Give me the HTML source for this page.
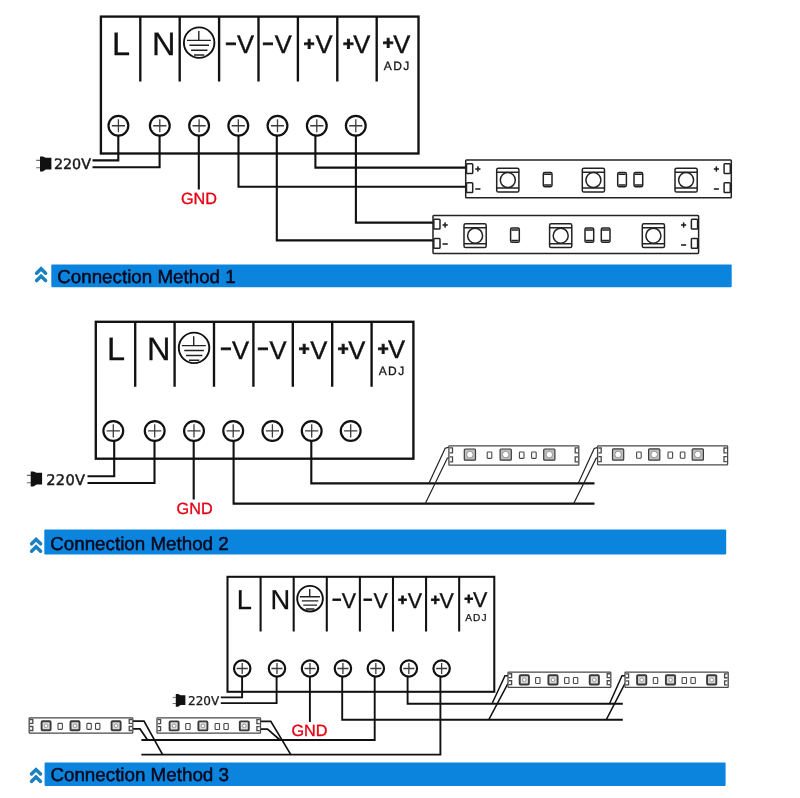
<!DOCTYPE html>
<html lang="en"><head><meta charset="utf-8"><title>Connection Methods</title>
<style>html,body{margin:0;padding:0;background:#fff}body{width:800px;height:798px;overflow:hidden}svg{display:block;will-change:transform;text-rendering:geometricPrecision;filter:blur(0.35px)}.lb{font-family:"Liberation Sans",sans-serif;fill:#111}.sk{stroke:#111;stroke-width:0.3}.dv{font-family:"DejaVu Sans","Liberation Sans",sans-serif;fill:#1a1a1a;stroke:#1a1a1a;stroke-width:0.45}.w{fill:none;stroke:#111;stroke-width:2.1}.tw{fill:none;stroke:#222;stroke-width:1.2}.st *{fill:none;stroke:#222;stroke-width:1.5}.st rect:first-child{fill:#fff}.ss *{fill:none;stroke:#4a4a4a;stroke-width:1.3}.ss rect:first-child{fill:#fff}.gnd{font-family:"Liberation Sans",sans-serif;fill:#e60012;font-size:16.2px;stroke:#e60012;stroke-width:0.35}</style></head><body>
<svg width="800" height="798" viewBox="0 0 800 798">
<rect width="800" height="798" fill="#fff"/>
<g id="s1">
<g transform="translate(100.9 16.6) scale(1)">
<rect x="0" y="0" width="317.6" height="136.9" fill="#fff" stroke="#111" stroke-width="2.35"/>
<path d="M39.4 0V65M78.8 0V65M118.2 0V65M157.6 0V65M197 0V65M236.4 0V65M275.8 0V65" stroke="#111" stroke-width="2.35" fill="none"/>
<text x="11.1" y="38.7" font-size="32.5" class="lb sk">L</text>
<text x="51.2" y="38.7" font-size="32.5" class="lb sk">N</text>
<circle cx="98.25" cy="26.05" r="15.25" fill="none" stroke="#111" stroke-width="1.9"/>
<path d="M97.9 14.5V23.8M86.1 23.8H110M88.5 28.7H108.1M90.2 33.7H106.6M93.1 38.4H103.5" stroke="#222" stroke-width="1.4" fill="none"/>
<text y="36.9" class="lb"><tspan x="124.6" dy="-3.3" font-size="18.5" font-weight="bold" stroke="#111" stroke-width="0.9">−</tspan><tspan x="136.1" dy="3.3" font-size="25.6" stroke="#111" stroke-width="0.4">V</tspan></text>
<text y="36.9" class="lb"><tspan x="161.6" dy="-3.3" font-size="18.5" font-weight="bold" stroke="#111" stroke-width="0.9">−</tspan><tspan x="173.8" dy="3.3" font-size="25.6" stroke="#111" stroke-width="0.4">V</tspan></text>
<text y="36.9" class="lb"><tspan x="202.9" dy="-3.3" font-size="18.5" font-weight="bold" stroke="#111" stroke-width="0.9">+</tspan><tspan x="214.5" dy="3.3" font-size="25.6" stroke="#111" stroke-width="0.4">V</tspan></text>
<text y="36.9" class="lb"><tspan x="242" dy="-3.3" font-size="18.5" font-weight="bold" stroke="#111" stroke-width="0.9">+</tspan><tspan x="252.4" dy="3.3" font-size="25.6" stroke="#111" stroke-width="0.4">V</tspan></text>
<text y="36.2" class="lb"><tspan x="281.9" dy="-3.3" font-size="18.5" font-weight="bold" stroke="#111" stroke-width="0.9">+</tspan><tspan x="292.3" dy="3.3" font-size="25.6" stroke="#111" stroke-width="0.4">V</tspan></text>
<text x="282.9" y="53.2" font-size="12" letter-spacing="1.4" class="lb" stroke="#222" stroke-width="0.3">ADJ</text>
<circle cx="17.5" cy="109.15" r="9.9" fill="#fff" stroke="#111" stroke-width="2.2"/>
<path d="M10.9 109.15H24.1M17.5 102.55V115.75" stroke="#3c3c3c" stroke-width="1.3" fill="none"/>
<circle cx="58.9" cy="109.15" r="9.9" fill="#fff" stroke="#111" stroke-width="2.2"/>
<path d="M52.3 109.15H65.5M58.9 102.55V115.75" stroke="#3c3c3c" stroke-width="1.3" fill="none"/>
<circle cx="98.2" cy="109.15" r="9.9" fill="#fff" stroke="#111" stroke-width="2.2"/>
<path d="M91.6 109.15H104.8M98.2 102.55V115.75" stroke="#3c3c3c" stroke-width="1.3" fill="none"/>
<circle cx="137.4" cy="109.15" r="9.9" fill="#fff" stroke="#111" stroke-width="2.2"/>
<path d="M130.8 109.15H144M137.4 102.55V115.75" stroke="#3c3c3c" stroke-width="1.3" fill="none"/>
<circle cx="176.6" cy="109.15" r="9.9" fill="#fff" stroke="#111" stroke-width="2.2"/>
<path d="M170 109.15H183.2M176.6 102.55V115.75" stroke="#3c3c3c" stroke-width="1.3" fill="none"/>
<circle cx="215.9" cy="109.15" r="9.9" fill="#fff" stroke="#111" stroke-width="2.2"/>
<path d="M209.3 109.15H222.5M215.9 102.55V115.75" stroke="#3c3c3c" stroke-width="1.3" fill="none"/>
<circle cx="254.9" cy="109.15" r="9.9" fill="#fff" stroke="#111" stroke-width="2.2"/>
<path d="M248.3 109.15H261.5M254.9 102.55V115.75" stroke="#3c3c3c" stroke-width="1.3" fill="none"/>
</g>
<path class="w" d="M118.3 136V160.4H92.5M159.6 136V167.3H92.5M198.8 136V189.5M238.5 136V186.8H466M276.8 136V240.4H433.5M315.4 136V167.6H466M355.9 136V222.6H433.5"/>
<g transform="translate(36.2 164) scale(1)">
<path d="M0 -3.6H4M0 3.7H4" stroke="#666" stroke-width="1.1" fill="none"/>
<path d="M3.8 -7.6L6.6 -7.6L9.6 -6.2L15.2 -6.2L15.2 5.4L9.6 5.4L6.6 7.6L3.8 7.6Z" fill="#111"/>
</g>
<text x="53.9" y="169.3" font-size="14.3" class="dv">220V</text>
<text x="199" y="203.8" text-anchor="middle" class="gnd">GND</text>
<g transform="translate(465.7 159.9)" class="st">
<rect x="0" y="0" width="265.6" height="37.9" rx="0.8" fill="#fff"/>
<rect x="0.8" y="3.8" width="6.2" height="9.8" rx="0.8"/><rect x="0.8" y="22.9" width="6.2" height="9.8" rx="0.8"/>
<rect x="258.4" y="3.8" width="6.2" height="9.8" rx="0.8"/><rect x="258.4" y="22.9" width="6.2" height="9.8" rx="0.8"/>
<rect x="31" y="8.3" width="22.2" height="23.8" rx="1.6" stroke-width="1.7"/>
<path d="M31 12.3h22.2M31 28.2h22.2" stroke-width="1.1"/>
<circle cx="42.1" cy="20.2" r="7.5" stroke-width="1.9"/>
<rect x="116.6" y="8.3" width="22.2" height="23.8" rx="1.6" stroke-width="1.7"/>
<path d="M116.6 12.3h22.2M116.6 28.2h22.2" stroke-width="1.1"/>
<circle cx="127.7" cy="20.2" r="7.5" stroke-width="1.9"/>
<rect x="209.3" y="8.3" width="22.2" height="23.8" rx="1.6" stroke-width="1.7"/>
<path d="M209.3 12.3h22.2M209.3 28.2h22.2" stroke-width="1.1"/>
<circle cx="220.4" cy="20.2" r="7.5" stroke-width="1.9"/>
<rect x="77.6" y="12.6" width="8.7" height="14.2" rx="1.4"/>
<path d="M78.4 14.4h7.1M78.4 25.0h7.1" stroke="#999" stroke-width="0.9"/>
<rect x="152" y="12.6" width="8.7" height="14.2" rx="1.4"/>
<path d="M152.8 14.4h7.1M152.8 25.0h7.1" stroke="#999" stroke-width="0.9"/>
<rect x="168.3" y="12.6" width="8.7" height="14.2" rx="1.4"/>
<path d="M169.1 14.4h7.1M169.1 25.0h7.1" stroke="#999" stroke-width="0.9"/>
</g>
<text x="477.8" y="171.9" font-size="9" font-weight="bold" text-anchor="middle" class="lb" stroke="#111" stroke-width="0.5">+</text>
<text x="477.8" y="191.7" font-size="9" font-weight="bold" text-anchor="middle" class="lb" stroke="#111" stroke-width="0.5">−</text>
<text x="716.3" y="171.9" font-size="9" font-weight="bold" text-anchor="middle" class="lb" stroke="#111" stroke-width="0.5">+</text>
<text x="716.3" y="191.9" font-size="9" font-weight="bold" text-anchor="middle" class="lb" stroke="#111" stroke-width="0.5">−</text>
<g transform="translate(433 215.5)" class="st">
<rect x="0" y="0" width="265.6" height="37.9" rx="0.8" fill="#fff"/>
<rect x="0.8" y="3.8" width="6.2" height="9.8" rx="0.8"/><rect x="0.8" y="22.9" width="6.2" height="9.8" rx="0.8"/>
<rect x="258.4" y="3.8" width="6.2" height="9.8" rx="0.8"/><rect x="258.4" y="22.9" width="6.2" height="9.8" rx="0.8"/>
<rect x="31" y="8.3" width="22.2" height="23.8" rx="1.6" stroke-width="1.7"/>
<path d="M31 12.3h22.2M31 28.2h22.2" stroke-width="1.1"/>
<circle cx="42.1" cy="20.2" r="7.5" stroke-width="1.9"/>
<rect x="116.6" y="8.3" width="22.2" height="23.8" rx="1.6" stroke-width="1.7"/>
<path d="M116.6 12.3h22.2M116.6 28.2h22.2" stroke-width="1.1"/>
<circle cx="127.7" cy="20.2" r="7.5" stroke-width="1.9"/>
<rect x="209.3" y="8.3" width="22.2" height="23.8" rx="1.6" stroke-width="1.7"/>
<path d="M209.3 12.3h22.2M209.3 28.2h22.2" stroke-width="1.1"/>
<circle cx="220.4" cy="20.2" r="7.5" stroke-width="1.9"/>
<rect x="77.6" y="12.6" width="8.7" height="14.2" rx="1.4"/>
<path d="M78.4 14.4h7.1M78.4 25.0h7.1" stroke="#999" stroke-width="0.9"/>
<rect x="152" y="12.6" width="8.7" height="14.2" rx="1.4"/>
<path d="M152.8 14.4h7.1M152.8 25.0h7.1" stroke="#999" stroke-width="0.9"/>
<rect x="168.3" y="12.6" width="8.7" height="14.2" rx="1.4"/>
<path d="M169.1 14.4h7.1M169.1 25.0h7.1" stroke="#999" stroke-width="0.9"/>
</g>
<text x="445.1" y="227.5" font-size="9" font-weight="bold" text-anchor="middle" class="lb" stroke="#111" stroke-width="0.5">+</text>
<text x="445.1" y="247.3" font-size="9" font-weight="bold" text-anchor="middle" class="lb" stroke="#111" stroke-width="0.5">−</text>
<text x="683.6" y="227.5" font-size="9" font-weight="bold" text-anchor="middle" class="lb" stroke="#111" stroke-width="0.5">+</text>
<text x="683.6" y="247.5" font-size="9" font-weight="bold" text-anchor="middle" class="lb" stroke="#111" stroke-width="0.5">−</text>
<rect x="51.3" y="264.4" width="680.4" height="22.9" rx="1" fill="#0b84dd"/>
<text x="57.2" y="283.2" font-size="18.8" class="lb" style="fill:#0a0a1e;stroke:#0a0a1e;stroke-width:0.5">Connection Method 1</text>
<path d="M36.6 273.2L41.1 268.8L45.6 273.2" fill="none" stroke="#1b80bf" stroke-width="3.5" stroke-linecap="round" stroke-linejoin="miter"/>
<path d="M36.6 280.6L41.1 276.2L45.6 280.6" fill="none" stroke="#1b80bf" stroke-width="3.5" stroke-linecap="round" stroke-linejoin="miter"/>
</g>
<g id="s2">
<g transform="translate(95.8 321.8) scale(1)">
<rect x="0" y="0" width="317.6" height="136.9" fill="#fff" stroke="#111" stroke-width="2.35"/>
<path d="M39.4 0V65M78.8 0V65M118.2 0V65M157.6 0V65M197 0V65M236.4 0V65M275.8 0V65" stroke="#111" stroke-width="2.35" fill="none"/>
<text x="11.1" y="38.7" font-size="32.5" class="lb sk">L</text>
<text x="51.2" y="38.7" font-size="32.5" class="lb sk">N</text>
<circle cx="98.25" cy="26.05" r="15.25" fill="none" stroke="#111" stroke-width="1.9"/>
<path d="M97.9 14.5V23.8M86.1 23.8H110M88.5 28.7H108.1M90.2 33.7H106.6M93.1 38.4H103.5" stroke="#222" stroke-width="1.4" fill="none"/>
<text y="36.9" class="lb"><tspan x="124.6" dy="-3.3" font-size="18.5" font-weight="bold" stroke="#111" stroke-width="0.9">−</tspan><tspan x="136.1" dy="3.3" font-size="25.6" stroke="#111" stroke-width="0.4">V</tspan></text>
<text y="36.9" class="lb"><tspan x="161.6" dy="-3.3" font-size="18.5" font-weight="bold" stroke="#111" stroke-width="0.9">−</tspan><tspan x="173.8" dy="3.3" font-size="25.6" stroke="#111" stroke-width="0.4">V</tspan></text>
<text y="36.9" class="lb"><tspan x="202.9" dy="-3.3" font-size="18.5" font-weight="bold" stroke="#111" stroke-width="0.9">+</tspan><tspan x="214.5" dy="3.3" font-size="25.6" stroke="#111" stroke-width="0.4">V</tspan></text>
<text y="36.9" class="lb"><tspan x="242" dy="-3.3" font-size="18.5" font-weight="bold" stroke="#111" stroke-width="0.9">+</tspan><tspan x="252.4" dy="3.3" font-size="25.6" stroke="#111" stroke-width="0.4">V</tspan></text>
<text y="36.2" class="lb"><tspan x="281.9" dy="-3.3" font-size="18.5" font-weight="bold" stroke="#111" stroke-width="0.9">+</tspan><tspan x="292.3" dy="3.3" font-size="25.6" stroke="#111" stroke-width="0.4">V</tspan></text>
<text x="282.9" y="53.2" font-size="12" letter-spacing="1.4" class="lb" stroke="#222" stroke-width="0.3">ADJ</text>
<circle cx="17.5" cy="109.15" r="9.9" fill="#fff" stroke="#111" stroke-width="2.2"/>
<path d="M10.9 109.15H24.1M17.5 102.55V115.75" stroke="#3c3c3c" stroke-width="1.3" fill="none"/>
<circle cx="58.9" cy="109.15" r="9.9" fill="#fff" stroke="#111" stroke-width="2.2"/>
<path d="M52.3 109.15H65.5M58.9 102.55V115.75" stroke="#3c3c3c" stroke-width="1.3" fill="none"/>
<circle cx="98.2" cy="109.15" r="9.9" fill="#fff" stroke="#111" stroke-width="2.2"/>
<path d="M91.6 109.15H104.8M98.2 102.55V115.75" stroke="#3c3c3c" stroke-width="1.3" fill="none"/>
<circle cx="137.4" cy="109.15" r="9.9" fill="#fff" stroke="#111" stroke-width="2.2"/>
<path d="M130.8 109.15H144M137.4 102.55V115.75" stroke="#3c3c3c" stroke-width="1.3" fill="none"/>
<circle cx="176.6" cy="109.15" r="9.9" fill="#fff" stroke="#111" stroke-width="2.2"/>
<path d="M170 109.15H183.2M176.6 102.55V115.75" stroke="#3c3c3c" stroke-width="1.3" fill="none"/>
<circle cx="215.9" cy="109.15" r="9.9" fill="#fff" stroke="#111" stroke-width="2.2"/>
<path d="M209.3 109.15H222.5M215.9 102.55V115.75" stroke="#3c3c3c" stroke-width="1.3" fill="none"/>
<circle cx="254.9" cy="109.15" r="9.9" fill="#fff" stroke="#111" stroke-width="2.2"/>
<path d="M248.3 109.15H261.5M254.9 102.55V115.75" stroke="#3c3c3c" stroke-width="1.3" fill="none"/>
</g>
<path class="w" d="M114.2 441V476.2H87.5M154.5 441V483H87.5M193.7 441V499.5M233.6 441V503.6H594.5M311.3 441V483.4H594.5"/>
<g transform="translate(26.9 479) scale(1)">
<path d="M0 -3.6H4M0 3.7H4" stroke="#666" stroke-width="1.1" fill="none"/>
<path d="M3.8 -7.6L6.6 -7.6L9.6 -6.2L15.2 -6.2L15.2 5.4L9.6 5.4L6.6 7.6L3.8 7.6Z" fill="#111"/>
</g>
<text x="46.2" y="484.7" font-size="14.6" letter-spacing="0.35" class="dv">220V</text>
<text x="194.6" y="514.3" text-anchor="middle" class="gnd">GND</text>
<path class="tw" d="M449.3 447.2L445.2 448.2L428.8 483.4M449.4 458H447.4L425.3 503.6M598 447.4L594.2 448.4L578.2 483.4M598.2 458.2H596.2L573.7 503.6"/>
<g transform="translate(448.9 445.8)" class="ss">
<rect x="0" y="0" width="129.9" height="19.3" rx="0.6" fill="#fff"/>
<path d="M0.8 2.12h2.8v5.02h-2.8M0.8 11h2.8v5.02h-2.8M129.1 2.12h-2.8v5.02h2.8M129.1 11h-2.8v5.02h2.8" stroke-width="0.9" stroke="#666"/>
<rect x="15.4" y="3.2" width="11.2" height="11.2" rx="0.9" style="fill:#bdbdbd;stroke:#3a3a3a;stroke-width:1.2"/>
<circle cx="21" cy="8.8" r="3.25" style="fill:#fff;stroke:#777;stroke-width:0.7"/>
<rect x="51.2" y="3.2" width="11.2" height="11.2" rx="0.9" style="fill:#bdbdbd;stroke:#3a3a3a;stroke-width:1.2"/>
<circle cx="56.8" cy="8.8" r="3.25" style="fill:#fff;stroke:#777;stroke-width:0.7"/>
<rect x="94.8" y="3.2" width="11.2" height="11.2" rx="0.9" style="fill:#bdbdbd;stroke:#3a3a3a;stroke-width:1.2"/>
<circle cx="100.4" cy="8.8" r="3.25" style="fill:#fff;stroke:#777;stroke-width:0.7"/>
<rect x="38.3" y="6.25" width="4.6" height="6.3" rx="0.8" style="stroke:#484848;stroke-width:1.1"/>
<rect x="70.5" y="6.25" width="4.6" height="6.3" rx="0.8" style="stroke:#484848;stroke-width:1.1"/>
<rect x="82.7" y="6.25" width="4.6" height="6.3" rx="0.8" style="stroke:#484848;stroke-width:1.1"/>
</g>
<g transform="translate(597.6 445.9)" class="ss">
<rect x="0" y="0" width="130" height="18.9" rx="0.6" fill="#fff"/>
<path d="M0.8 2.08h2.8v4.91h-2.8M0.8 10.77h2.8v4.91h-2.8M129.2 2.08h-2.8v4.91h2.8M129.2 10.77h-2.8v4.91h2.8" stroke-width="0.9" stroke="#666"/>
<rect x="14.9" y="3" width="11.2" height="11.2" rx="0.9" style="fill:#bdbdbd;stroke:#3a3a3a;stroke-width:1.2"/>
<circle cx="20.5" cy="8.6" r="3.25" style="fill:#fff;stroke:#777;stroke-width:0.7"/>
<rect x="51" y="3" width="11.2" height="11.2" rx="0.9" style="fill:#bdbdbd;stroke:#3a3a3a;stroke-width:1.2"/>
<circle cx="56.6" cy="8.6" r="3.25" style="fill:#fff;stroke:#777;stroke-width:0.7"/>
<rect x="94.6" y="3" width="11.2" height="11.2" rx="0.9" style="fill:#bdbdbd;stroke:#3a3a3a;stroke-width:1.2"/>
<circle cx="100.2" cy="8.6" r="3.25" style="fill:#fff;stroke:#777;stroke-width:0.7"/>
<rect x="39" y="6.05" width="4.6" height="6.3" rx="0.8" style="stroke:#484848;stroke-width:1.1"/>
<rect x="70.4" y="6.05" width="4.6" height="6.3" rx="0.8" style="stroke:#484848;stroke-width:1.1"/>
<rect x="82.7" y="6.05" width="4.6" height="6.3" rx="0.8" style="stroke:#484848;stroke-width:1.1"/>
</g>
<rect x="44.3" y="529.6" width="681.9" height="24.8" rx="1" fill="#0b84dd"/>
<text x="50.2" y="550.1" font-size="18.8" class="lb" style="fill:#0a0a1e;stroke:#0a0a1e;stroke-width:0.5">Connection Method 2</text>
<path d="M31.6 543.8L36.1 539.4L40.6 543.8" fill="none" stroke="#1b80bf" stroke-width="3.5" stroke-linecap="round" stroke-linejoin="miter"/>
<path d="M31.6 551.2L36.1 546.8L40.6 551.2" fill="none" stroke="#1b80bf" stroke-width="3.5" stroke-linecap="round" stroke-linejoin="miter"/>
</g>
<g id="s3">
<g transform="translate(227.5 576.8) scale(0.84)">
<rect x="0" y="0" width="317.6" height="136.9" fill="#fff" stroke="#111" stroke-width="2.45"/>
<path d="M39.4 0V65M78.8 0V65M118.2 0V65M157.6 0V65M197 0V65M236.4 0V65M275.8 0V65" stroke="#111" stroke-width="2.45" fill="none"/>
<text x="11.1" y="38.7" font-size="32.5" class="lb sk">L</text>
<text x="51.2" y="38.7" font-size="32.5" class="lb sk">N</text>
<circle cx="98.25" cy="26.05" r="15.25" fill="none" stroke="#111" stroke-width="2.26"/>
<path d="M97.9 14.5V23.8M86.1 23.8H110M88.5 28.7H108.1M90.2 33.7H106.6M93.1 38.4H103.5" stroke="#222" stroke-width="1.67" fill="none"/>
<text y="36.9" class="lb"><tspan x="124.6" dy="-3.3" font-size="18.5" font-weight="bold" stroke="#111" stroke-width="0.9">−</tspan><tspan x="136.1" dy="3.3" font-size="25.6" stroke="#111" stroke-width="0.4">V</tspan></text>
<text y="36.9" class="lb"><tspan x="161.6" dy="-3.3" font-size="18.5" font-weight="bold" stroke="#111" stroke-width="0.9">−</tspan><tspan x="173.8" dy="3.3" font-size="25.6" stroke="#111" stroke-width="0.4">V</tspan></text>
<text y="36.9" class="lb"><tspan x="202.9" dy="-3.3" font-size="18.5" font-weight="bold" stroke="#111" stroke-width="0.9">+</tspan><tspan x="214.5" dy="3.3" font-size="25.6" stroke="#111" stroke-width="0.4">V</tspan></text>
<text y="36.9" class="lb"><tspan x="242" dy="-3.3" font-size="18.5" font-weight="bold" stroke="#111" stroke-width="0.9">+</tspan><tspan x="252.4" dy="3.3" font-size="25.6" stroke="#111" stroke-width="0.4">V</tspan></text>
<text y="36.2" class="lb"><tspan x="281.9" dy="-3.3" font-size="18.5" font-weight="bold" stroke="#111" stroke-width="0.9">+</tspan><tspan x="292.3" dy="3.3" font-size="25.6" stroke="#111" stroke-width="0.4">V</tspan></text>
<text x="282.9" y="53.2" font-size="12" letter-spacing="1.4" class="lb" stroke="#222" stroke-width="0.3">ADJ</text>
<circle cx="17.5" cy="109.15" r="9.75" fill="#fff" stroke="#111" stroke-width="2.62"/>
<path d="M10.9 109.15H24.1M17.5 102.55V115.75" stroke="#3c3c3c" stroke-width="1.55" fill="none"/>
<circle cx="58.9" cy="109.15" r="9.75" fill="#fff" stroke="#111" stroke-width="2.62"/>
<path d="M52.3 109.15H65.5M58.9 102.55V115.75" stroke="#3c3c3c" stroke-width="1.55" fill="none"/>
<circle cx="98.2" cy="109.15" r="9.75" fill="#fff" stroke="#111" stroke-width="2.62"/>
<path d="M91.6 109.15H104.8M98.2 102.55V115.75" stroke="#3c3c3c" stroke-width="1.55" fill="none"/>
<circle cx="137.4" cy="109.15" r="9.75" fill="#fff" stroke="#111" stroke-width="2.62"/>
<path d="M130.8 109.15H144M137.4 102.55V115.75" stroke="#3c3c3c" stroke-width="1.55" fill="none"/>
<circle cx="176.6" cy="109.15" r="9.75" fill="#fff" stroke="#111" stroke-width="2.62"/>
<path d="M170 109.15H183.2M176.6 102.55V115.75" stroke="#3c3c3c" stroke-width="1.55" fill="none"/>
<circle cx="215.9" cy="109.15" r="9.75" fill="#fff" stroke="#111" stroke-width="2.62"/>
<path d="M209.3 109.15H222.5M215.9 102.55V115.75" stroke="#3c3c3c" stroke-width="1.55" fill="none"/>
<circle cx="254.9" cy="109.15" r="9.75" fill="#fff" stroke="#111" stroke-width="2.62"/>
<path d="M248.3 109.15H261.5M254.9 102.55V115.75" stroke="#3c3c3c" stroke-width="1.55" fill="none"/>
</g>
<path class="w" style="stroke-width:1.9" d="M242.1 676V697.4H220.8M276.6 676V703.1H220.8M309.9 676V722M342.2 676V719.8H622.8M374.7 676V740H141.4M407.6 676V703.8H622.8M440.4 676V754.6H141.4"/>
<g transform="translate(172.6 700.4) scale(0.84)">
<path d="M0 -3.6H4M0 3.7H4" stroke="#666" stroke-width="1.1" fill="none"/>
<path d="M3.8 -7.6L6.6 -7.6L9.6 -6.2L15.2 -6.2L15.2 5.4L9.6 5.4L6.6 7.6L3.8 7.6Z" fill="#111"/>
</g>
<text x="188.0" y="705.1" font-size="12" class="dv" style="stroke-width:0.3">220V</text>
<text x="309.4" y="736" text-anchor="middle" class="gnd">GND</text>
<path class="tw" style="stroke:#111;stroke-width:1.7" d="M132.8 721.2H144L162.6 754.6M132.8 728.9H140L147.6 740M260.5 721.3H270.8L290.8 754.6M260.5 729.2H267.5L280 740"/>
<path class="tw" style="stroke:#111;stroke-width:1.5" d="M508 675.8H505L492 703.8M508 683.3L488.7 719.8M625 675.8H622L609.5 703.8M625 683.3L606.2 719.8"/>
<g transform="translate(29.2 717.8)" class="ss">
<rect x="0" y="0" width="103.6" height="15.3" rx="0.6" fill="#fff"/>
<path d="M0.8 1.68h2.8v3.98h-2.8M0.8 8.72h2.8v3.98h-2.8M102.8 1.68h-2.8v3.98h2.8M102.8 8.72h-2.8v3.98h2.8" stroke-width="0.9" stroke="#666"/>
<rect x="12.4" y="3.45" width="9" height="9" rx="0.9" style="fill:#dadada;stroke:#3a3a3a;stroke-width:1.9"/>
<circle cx="16.9" cy="7.95" r="1.8" style="fill:#fff;stroke:#777;stroke-width:0.7"/>
<rect x="41.3" y="3.45" width="9" height="9" rx="0.9" style="fill:#dadada;stroke:#3a3a3a;stroke-width:1.9"/>
<circle cx="45.8" cy="7.95" r="1.8" style="fill:#fff;stroke:#777;stroke-width:0.7"/>
<rect x="82.4" y="3.45" width="9" height="9" rx="0.9" style="fill:#dadada;stroke:#3a3a3a;stroke-width:1.9"/>
<circle cx="86.9" cy="7.95" r="1.8" style="fill:#fff;stroke:#777;stroke-width:0.7"/>
<rect x="28.8" y="5.55" width="4.4" height="6" rx="0.8" style="stroke:#484848;stroke-width:1.1"/>
<rect x="57.7" y="5.55" width="4.4" height="6" rx="0.8" style="stroke:#484848;stroke-width:1.1"/>
<rect x="66.3" y="5.55" width="4.4" height="6" rx="0.8" style="stroke:#484848;stroke-width:1.1"/>
</g>
<g transform="translate(157 717.9)" class="ss">
<rect x="0" y="0" width="103.5" height="15.3" rx="0.6" fill="#fff"/>
<path d="M0.8 1.68h2.8v3.98h-2.8M0.8 8.72h2.8v3.98h-2.8M102.7 1.68h-2.8v3.98h2.8M102.7 8.72h-2.8v3.98h2.8" stroke-width="0.9" stroke="#666"/>
<rect x="12.6" y="3.45" width="9" height="9" rx="0.9" style="fill:#dadada;stroke:#3a3a3a;stroke-width:1.9"/>
<circle cx="17.1" cy="7.95" r="1.8" style="fill:#fff;stroke:#777;stroke-width:0.7"/>
<rect x="41.4" y="3.45" width="9" height="9" rx="0.9" style="fill:#dadada;stroke:#3a3a3a;stroke-width:1.9"/>
<circle cx="45.9" cy="7.95" r="1.8" style="fill:#fff;stroke:#777;stroke-width:0.7"/>
<rect x="82.8" y="3.45" width="9" height="9" rx="0.9" style="fill:#dadada;stroke:#3a3a3a;stroke-width:1.9"/>
<circle cx="87.3" cy="7.95" r="1.8" style="fill:#fff;stroke:#777;stroke-width:0.7"/>
<rect x="28.7" y="5.55" width="4.4" height="6" rx="0.8" style="stroke:#484848;stroke-width:1.1"/>
<rect x="58.1" y="5.55" width="4.4" height="6" rx="0.8" style="stroke:#484848;stroke-width:1.1"/>
<rect x="66.9" y="5.55" width="4.4" height="6" rx="0.8" style="stroke:#484848;stroke-width:1.1"/>
</g>
<g transform="translate(508 672.1)" class="ss">
<rect x="0" y="0" width="102.8" height="15.2" rx="0.6" fill="#fff"/>
<path d="M0.8 1.67h2.8v3.95h-2.8M0.8 8.66h2.8v3.95h-2.8M102 1.67h-2.8v3.95h2.8M102 8.66h-2.8v3.95h2.8" stroke-width="0.9" stroke="#666"/>
<rect x="11.7" y="3.15" width="9.2" height="9.2" rx="0.9" style="fill:#dadada;stroke:#3a3a3a;stroke-width:1.9"/>
<circle cx="16.3" cy="7.75" r="1.84" style="fill:#fff;stroke:#777;stroke-width:0.7"/>
<rect x="40.4" y="3.15" width="9.2" height="9.2" rx="0.9" style="fill:#dadada;stroke:#3a3a3a;stroke-width:1.9"/>
<circle cx="45" cy="7.75" r="1.84" style="fill:#fff;stroke:#777;stroke-width:0.7"/>
<rect x="81.7" y="3.15" width="9.2" height="9.2" rx="0.9" style="fill:#dadada;stroke:#3a3a3a;stroke-width:1.9"/>
<circle cx="86.3" cy="7.75" r="1.84" style="fill:#fff;stroke:#777;stroke-width:0.7"/>
<rect x="27.6" y="5.35" width="4.4" height="6" rx="0.8" style="stroke:#484848;stroke-width:1.1"/>
<rect x="56.6" y="5.35" width="4.4" height="6" rx="0.8" style="stroke:#484848;stroke-width:1.1"/>
<rect x="65.4" y="5.35" width="4.4" height="6" rx="0.8" style="stroke:#484848;stroke-width:1.1"/>
</g>
<g transform="translate(625 672.1)" class="ss">
<rect x="0" y="0" width="103.2" height="15.3" rx="0.6" fill="#fff"/>
<path d="M0.8 1.68h2.8v3.98h-2.8M0.8 8.72h2.8v3.98h-2.8M102.4 1.68h-2.8v3.98h2.8M102.4 8.72h-2.8v3.98h2.8" stroke-width="0.9" stroke="#666"/>
<rect x="12.1" y="3.2" width="9.2" height="9.2" rx="0.9" style="fill:#dadada;stroke:#3a3a3a;stroke-width:1.9"/>
<circle cx="16.7" cy="7.8" r="1.84" style="fill:#fff;stroke:#777;stroke-width:0.7"/>
<rect x="40.9" y="3.2" width="9.2" height="9.2" rx="0.9" style="fill:#dadada;stroke:#3a3a3a;stroke-width:1.9"/>
<circle cx="45.5" cy="7.8" r="1.84" style="fill:#fff;stroke:#777;stroke-width:0.7"/>
<rect x="82.1" y="3.2" width="9.2" height="9.2" rx="0.9" style="fill:#dadada;stroke:#3a3a3a;stroke-width:1.9"/>
<circle cx="86.7" cy="7.8" r="1.84" style="fill:#fff;stroke:#777;stroke-width:0.7"/>
<rect x="28.3" y="5.4" width="4.4" height="6" rx="0.8" style="stroke:#484848;stroke-width:1.1"/>
<rect x="57.1" y="5.4" width="4.4" height="6" rx="0.8" style="stroke:#484848;stroke-width:1.1"/>
<rect x="65.9" y="5.4" width="4.4" height="6" rx="0.8" style="stroke:#484848;stroke-width:1.1"/>
</g>
<rect x="44.6" y="762.5" width="681" height="23.4" rx="1" fill="#0b84dd"/>
<text x="50.4" y="781.3" font-size="18.8" class="lb" style="fill:#0a0a1e;stroke:#0a0a1e;stroke-width:0.5">Connection Method 3</text>
<path d="M31.5 774L36 769.6L40.5 774" fill="none" stroke="#1b80bf" stroke-width="3.5" stroke-linecap="round" stroke-linejoin="miter"/>
<path d="M31.5 781.4L36 777L40.5 781.4" fill="none" stroke="#1b80bf" stroke-width="3.5" stroke-linecap="round" stroke-linejoin="miter"/>
</g>
</svg></body></html>
